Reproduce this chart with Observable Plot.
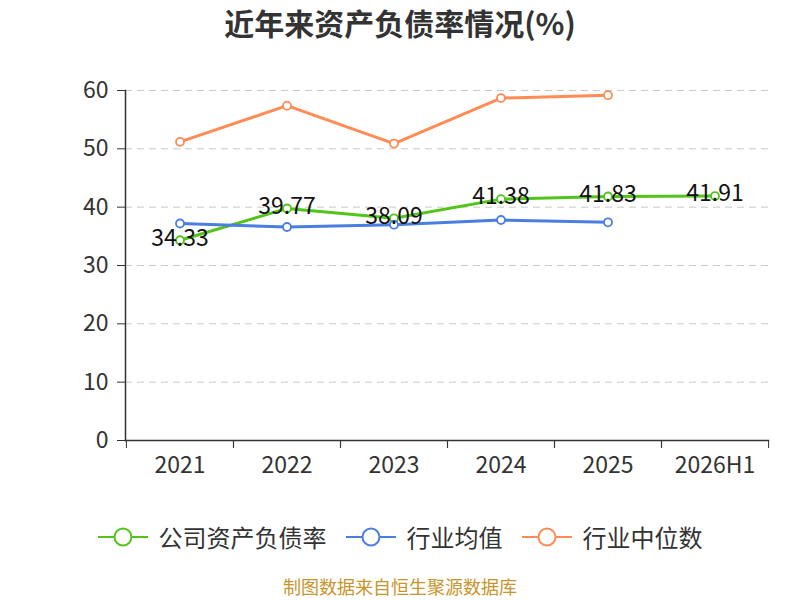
<!DOCTYPE html>
<html>
<head>
<meta charset="utf-8">
<script src="https://cdn.jsdelivr.net/npm/d3@7"></script>
<script src="https://cdn.jsdelivr.net/npm/@observablehq/plot@0.6"></script>
<style>
  body { margin: 0; background: #fff; font-family: "Noto Sans CJK SC", "Noto Sans", sans-serif; }
  #wrap { position: relative; width: 800px; height: 600px; overflow: hidden; }
  #title { position: absolute; top: 0px; left: 0; width: 800px; text-align: center; font-size: 30px; font-weight: bold; color: #333; line-height: 44px; }
  #unit { position: absolute; left: 50px; top: 116px; font-size: 15px; color: #e8232a; transform: rotate(-90deg); transform-origin: center; }
  #chart { position: absolute; top: 50px; left: 0; }
  #legend { position: absolute; top: 521px; left: 0; width: 800px; display: flex; justify-content: center; gap: 19px; font-size: 24px; color: #333; line-height: 32px; }
  .item { display: flex; align-items: center; gap: 11px; }
  #caption { position: absolute; top: 573px; left: 0; width: 800px; text-align: center; font-size: 18px; line-height: 26px; color: #c8952c; }
</style>
</head>
<body>
<div id="wrap">
  <div id="title">近年来资产负债率情况(%)</div>
  <div id="unit">(%)</div>
  <div id="chart"></div>
  <div id="legend"></div>
  <div id="caption">制图数据来自恒生聚源数据库</div>
</div>
<script>
const categories = ["2021", "2022", "2023", "2024", "2025", "2026H1"];
const companyValues = [34.33, 39.77, 38.09, 41.38, 41.83, 41.91];
const industryAvgValues = [37.2, 36.6, 37.0, 37.8, 37.4];
const industryMedianValues = [51.2, 57.4, 50.9, 58.7, 59.2];
const yTicks = [0, 10, 20, 30, 40, 50, 60];
const seriesNames = ["公司资产负债率", "行业均值", "行业中位数"];
const seriesColors = ["#52c41a", "#4a7fe0", "#ff8c55"];

const toRows = (vals) => vals.map((v, i) => ({cat: categories[i], value: v}));
const company = toRows(companyValues);
const avg = toRows(industryAvgValues);
const median = toRows(industryMedianValues);

const W = 800, H = 450, ML = 125, MR = 32, MT = 40, MB = 60;
const bw = (W - ML - MR) / categories.length;

const lineOpts = (color) => ({x: "cat", y: "value", stroke: color, strokeWidth: 3});
const dotOpts = (color) => ({x: "cat", y: "value", r: 4, fill: "white", stroke: color, strokeWidth: 1.8});

const chart = Plot.plot({
  width: W, height: H,
  marginLeft: ML, marginRight: MR, marginTop: MT, marginBottom: MB,
  style: {fontFamily: '"Noto Sans CJK SC", "Noto Sans", sans-serif', background: "white"},
  x: {type: "band", domain: categories, padding: 0, label: null},
  y: {domain: [0, 60], ticks: yTicks, label: null},
  marks: [
    Plot.gridY(yTicks.filter(t => t > 0), {stroke: "#c8c8c8", strokeOpacity: 1, strokeDasharray: "7,5"}),
    Plot.axisY(yTicks, {tickSize: 8, tickPadding: 9, fontSize: 23, fill: "#333", stroke: "#333", label: null}),
    Plot.axisX({tickSize: 0, tickPadding: 16, fontSize: 23, fill: "#333", label: null}),
    Plot.axisX({tickSize: 8, tickFormat: () => "", stroke: "#333", dx: -bw / 2, label: null}),
    Plot.axisX({tickSize: 8, tickFormat: () => "", stroke: "#333", dx: bw / 2, label: null}),
    Plot.frame({anchor: "left", stroke: "#333", strokeWidth: 1.5}),
    Plot.frame({anchor: "bottom", stroke: "#333", strokeWidth: 1.5}),
    Plot.line(company, lineOpts(seriesColors[0])),
    Plot.line(avg, lineOpts(seriesColors[1])),
    Plot.line(median, lineOpts(seriesColors[2])),
    Plot.dot(company, dotOpts(seriesColors[0])),
    Plot.dot(avg, dotOpts(seriesColors[1])),
    Plot.dot(median, dotOpts(seriesColors[2])),
    Plot.text(company, {x: "cat", y: "value", text: d => d.value.toFixed(2), fontSize: 23, fill: "#111", dy: -2})
  ]
});
document.getElementById("chart").appendChild(chart);

const legend = document.getElementById("legend");
seriesNames.forEach((name, i) => {
  const item = document.createElement("div");
  item.className = "item";
  item.innerHTML = `<svg width="50" height="24"><line x1="0" y1="12" x2="50" y2="12" stroke="${seriesColors[i]}" stroke-width="2"/><circle cx="25" cy="12" r="8.5" fill="white" stroke="${seriesColors[i]}" stroke-width="2"/></svg><span>${name}</span>`;
  legend.appendChild(item);
});
</script>
</body>
</html>
